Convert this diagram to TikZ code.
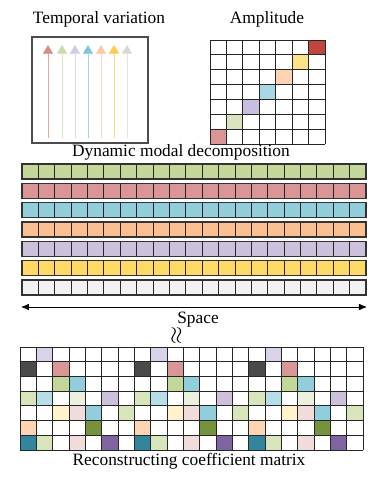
\documentclass[tikz,border=0pt]{standalone}
\usepackage{fontspec}
\setmainfont{Liberation Serif}
\usetikzlibrary{arrows.meta}
% arrow colours
\definecolor{aRed}{HTML}{D88A85}
\definecolor{aGreen}{HTML}{C9DBA6}
\definecolor{aLav}{HTML}{D3CBE4}
\definecolor{aBlue}{HTML}{7FC6DC}
\definecolor{aPeach}{HTML}{F8C9A6}
\definecolor{aYellow}{HTML}{FDCB4A}
\definecolor{aGrey}{HTML}{D8D8D8}
% amplitude diagonal
\definecolor{mDarkRed}{HTML}{C0453C}
\definecolor{mYellow}{HTML}{FDE28A}
\definecolor{mPeach}{HTML}{FBD4B4}
\definecolor{mBlue}{HTML}{A8D8E6}
\definecolor{mLav}{HTML}{C9BDE0}
\definecolor{mGreen}{HTML}{D7E4BD}
\definecolor{mRed}{HTML}{D99694}
% bars
\definecolor{bGreen}{HTML}{C4D79B}
\definecolor{bRed}{HTML}{DA9694}
\definecolor{bBlue}{HTML}{92CDDC}
\definecolor{bPeach}{HTML}{FAC090}
\definecolor{bLav}{HTML}{CCC0DA}
\definecolor{bYellow}{HTML}{FFD966}
\definecolor{bGrey}{HTML}{F2F2F2}
% coefficient matrix
\definecolor{cLavL}{HTML}{D9D2E9}
\definecolor{cDark}{HTML}{4A4A4A}
\definecolor{cRed}{HTML}{DA9694}
\definecolor{cGreen}{HTML}{C4D79B}
\definecolor{cBlue}{HTML}{92CDDC}
\definecolor{cLGreen}{HTML}{D8E4BC}
\definecolor{cLBlue}{HTML}{B7DEE8}
\definecolor{cVLGreen}{HTML}{EBF1DE}
\definecolor{cLav}{HTML}{CCC0DA}
\definecolor{cLYellow}{HTML}{FFF2CC}
\definecolor{cLPink}{HTML}{F2DCDB}
\definecolor{cPeach}{HTML}{FCD5B4}
\definecolor{cDGreen}{HTML}{76923C}
\definecolor{cTeal}{HTML}{31859C}
\definecolor{cPurple}{HTML}{8064A2}
\newcommand\mygridlines[6]{%
  \foreach \i in {0,...,#5} \draw[gridline] ({#1+\i*#3},#2) -- ++(0,{#6*#4});
  \foreach \j in {0,...,#6} \draw[gridline] (#1,{#2+\j*#4}) -- ++({#5*#3},0);
}
\begin{document}
\begin{tikzpicture}[x=0.75pt,y=-0.75pt,
  lbl/.style={font=\fontsize{13}{15}\selectfont, inner sep=0, anchor=base},
  gridline/.style={draw=black!85, line width=0.65pt},
  tarrow/.style={line width=0.5pt}]
\useasboundingbox (0,0) rectangle (380,480);

% ---------- Temporal variation ----------
\node[lbl] (ttemp) at (99,23) {Temporal variation};
\draw[black!70, line width=0.8pt] (32,37) rectangle (148,143);
\foreach \x/\c in {48/aRed,62/aGreen,75/aLav,88/aBlue,101/aPeach,114/aYellow,127/aGrey}{
  \draw[tarrow,\c!75, -{Triangle[length=6.5pt,width=7.5pt,color=\c]}] (\x,138) -- (\x,45);
}

% ---------- Amplitude ----------
\node[lbl] (tamp) at (267,23) {Amplitude};
\foreach \r/\c/\col in {1/7/mDarkRed,2/6/mYellow,3/5/mPeach,4/4/mBlue,5/3/mLav,6/2/mGreen,7/1/mRed}{
  \fill[\col] ({210+(\c-1)*16.43},{40+(\r-1)*14.86}) rectangle ++(16.43,14.86);
}
\mygridlines{210}{40}{16.43}{14.86}{7}{7}

% ---------- Dynamic modal decomposition ----------
\node[lbl] (tdmd) at (181,156.5) {Dynamic modal decomposition};
\foreach \k/\col in {0/bGreen,1/bRed,2/bBlue,3/bPeach,4/bLav,5/bYellow,6/bGrey}{
  \pgfmathsetmacro{\yy}{164+\k*19.33}
  \fill[\col] (22,\yy) rectangle (366,{\yy+15});
  \foreach \i in {1,...,20} \draw[gridline] ({22+\i*16.381},\yy) -- ++(0,15);
  \draw[black!80, line width=0.8pt] (22,\yy) rectangle (366,{\yy+15});
}

% ---------- Space ----------
\coordinate (sl) at (21,307);
\coordinate (sr) at (367,307);
\draw[line width=0.6pt, {Latex[length=6pt,width=5pt]}-{Latex[length=6pt,width=5pt]}] (sl) -- (sr);
\node[lbl] (tspace) at (198,323) {Space};
\node[inner sep=0, font=\fontsize{16}{18}\selectfont] (tapprox) at (177,336) {\rotatebox{90}{$\approx$}};

% ---------- Reconstructing coefficient matrix ----------
\foreach \k in {0,1,2}{
  \foreach \r/\c/\col in {1/2/cLavL,
      2/1/cDark,2/3/cRed,
      3/3/cGreen,3/4/cBlue,
      4/1/cLGreen,4/2/cLBlue,4/4/cVLGreen,4/6/cLav,
      5/3/cLYellow,5/4/cLPink,5/5/cBlue,5/7/cLGreen,
      6/1/cPeach,6/5/cDGreen,
      7/1/cTeal,7/2/cLGreen,7/4/cLPink,7/6/cPurple}{
    \fill[\col] ({20+(\k*7+\c-1)*16.333},{347+(\r-1)*14.714}) rectangle ++(16.333,14.714);
  }
}
\mygridlines{20}{347}{16.333}{14.714}{21}{7}
\node[lbl] (trec) at (189,465) {Reconstructing coefficient matrix};
\end{tikzpicture}
\end{document}
